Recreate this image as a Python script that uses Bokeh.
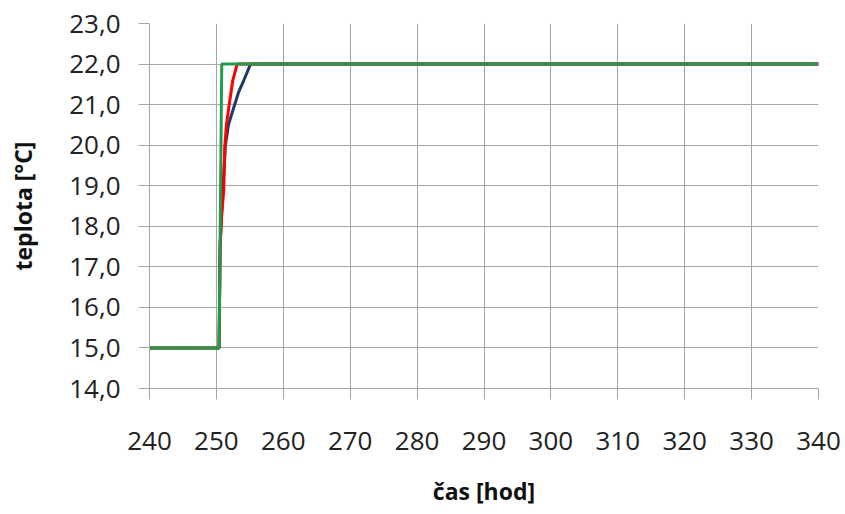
from bokeh.plotting import figure
from bokeh.models import Range1d, FixedTicker
from bokeh.embed import file_html
from bokeh.resources import INLINE

# data (hours, °C)
green_x = [240, 250.4, 250.8, 340]
green_y = [15.0, 15.0, 22.0, 22.0]

red_x = [240, 250.4, 250.55, 250.8, 251.1, 251.25, 251.5, 251.85, 252.45, 253.1, 340]
red_y = [15.0, 15.0, 17.5, 18.3, 18.9, 19.95, 20.5, 20.93, 21.6, 22.0, 22.0]

blue_x = [240, 250.4, 250.55, 250.8, 251.1, 251.35, 251.8, 252.6, 253.3, 254.1, 255.1, 340]
blue_y = [15.0, 15.0, 17.5, 18.4, 19.3, 20.0, 20.5, 20.93, 21.3, 21.6, 22.0, 22.0]

x_ticks = [240, 250, 260, 270, 280, 290, 300, 310, 320, 330, 340]
y_ticks = [14, 15, 16, 17, 18, 19, 20, 21, 22, 23]
y_tick_labels = ["14,0", "15,0", "16,0", "17,0", "18,0", "19,0", "20,0", "21,0", "22,0", "23,0"]

FONT = "Open Sans"
GRID = "#A6A6A6"

p = figure(width=843, height=512, output_backend="svg", toolbar_location=None,
           x_range=Range1d(240, 340), y_range=Range1d(14, 23),
           min_border_left=149, min_border_right=25, min_border_top=23, min_border_bottom=124)
p.outline_line_color = None
p.background_fill_color = "white"

p.line(blue_x, blue_y, line_color="#1F3864", line_width=3)
p.line(red_x, red_y, line_color="#FF0000", line_width=3)
p.line(green_x, green_y, line_color="#1E9E4A", line_width=3)

p.xaxis.ticker = FixedTicker(ticks=x_ticks)
p.yaxis.ticker = FixedTicker(ticks=y_ticks)
p.yaxis.major_label_overrides = {t: l for t, l in zip(y_ticks, y_tick_labels)}

for ax in (p.xaxis, p.yaxis):
    ax.axis_line_color = GRID
    ax.major_tick_line_color = GRID
    ax.minor_tick_line_color = None
    ax.major_tick_out = 11
    ax.major_tick_in = 0
    ax.major_label_text_font = FONT
    ax.major_label_text_font_size = "26px"
    ax.major_label_text_color = "#222222"
    ax.axis_label_text_font = FONT
    ax.axis_label_text_font_size = "23px"
    ax.axis_label_text_font_style = "bold"
    ax.axis_label_text_color = "#111111"

p.xaxis.axis_label = "čas [hod]"
p.yaxis.axis_label = "teplota [°C]"
p.xaxis.major_label_standoff = 32
p.yaxis.major_label_standoff = 18
p.xaxis.axis_label_standoff = 22
p.yaxis.axis_label_standoff = 27

p.xgrid.grid_line_color = GRID
p.ygrid.grid_line_color = GRID
p.xgrid.grid_line_width = 1
p.ygrid.grid_line_width = 1

open("out.html", "w").write(file_html(p, INLINE))
